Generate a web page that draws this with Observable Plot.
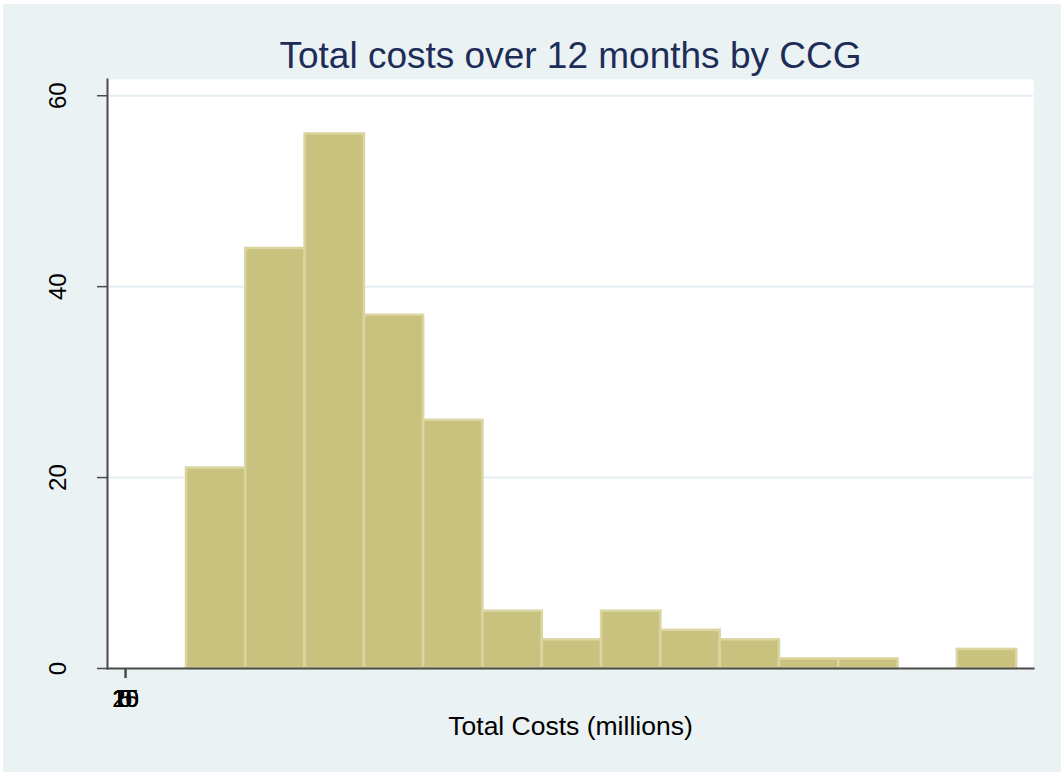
<!DOCTYPE html>
<html>
<head>
<meta charset="utf-8">
<script src="https://cdn.jsdelivr.net/npm/d3@7"></script>
<script src="https://cdn.jsdelivr.net/npm/@observablehq/plot@0.6"></script>
<style>
  html, body { margin: 0; padding: 0; background: #ffffff; }
  #wrap { position: relative; width: 1064px; height: 776px; background: #ffffff; overflow: hidden; }
  #panel { position: absolute; left: 3px; top: 4px; width: 1058px; height: 768px; background: #eaf2f3; }
  #chart { position: absolute; left: 0; top: 0; }
</style>
</head>
<body>
<div id="wrap"><div id="panel"></div><div id="chart"></div></div>
<script>
// Data (costs in pounds; bins of the histogram)
const binLower = [51.4e6, 101.4e6, 151.4e6, 201.4e6, 251.4e6, 301.4e6, 351.4e6, 401.4e6, 451.4e6, 501.4e6, 551.4e6, 601.4e6, 651.4e6, 701.4e6];
const binUpper = [101.4e6, 151.4e6, 201.4e6, 251.4e6, 301.4e6, 351.4e6, 401.4e6, 451.4e6, 501.4e6, 551.4e6, 601.4e6, 651.4e6, 701.4e6, 751.4e6];
const counts   = [21, 44, 56, 37, 26, 6, 3, 6, 4, 3, 1, 1, 0, 2];
const xTicks = [0, 5, 10, 15, 20];
const yTicks = [0, 20, 40, 60];
const gridTicks = [20, 40, 60];
const title = "Total costs over 12 months by CCG";
const xLabel = "Total Costs (millions)";

const bins = binLower.map((lo, i) => ({lo, hi: binUpper[i], n: counts[i]})).filter(d => d.n > 0);

const font = "'Liberation Sans', Arial, sans-serif";
const axisColor = "#4a4a4a";

const chart = Plot.plot({
  width: 1064,
  height: 776,
  marginLeft: 107,
  marginRight: 31,
  marginTop: 79,
  marginBottom: 108,
  style: {background: "transparent", fontFamily: font, overflow: "visible"},
  x: {domain: [-15.2e6, 765.6e6], axis: null, label: null},
  y: {domain: [0, 61.7], axis: null, label: null},
  marks: [
    Plot.frame({fill: "#ffffff", stroke: null}),
    Plot.ruleY(gridTicks, {stroke: "#e4edf0", strokeWidth: 2}),
    Plot.rectY(bins, {x1: "lo", x2: "hi", y1: 0, y2: "n", fill: "#c9c27f", stroke: "#dad5a1", strokeWidth: 2.5}),
    Plot.frame({anchor: "left", stroke: axisColor, strokeWidth: 2}),
    Plot.frame({anchor: "bottom", stroke: axisColor, strokeWidth: 2}),
    Plot.axisY(yTicks, {tickSize: 10, stroke: axisColor, strokeWidth: 1.5, tickFormat: null, text: null, label: null}),
    Plot.axisX(xTicks, {tickSize: 10, stroke: axisColor, strokeWidth: 1.5, tickFormat: null, text: null, label: null}),
    Plot.text(yTicks, {y: d => d, text: d => String(d), frameAnchor: "left", dx: -42, rotate: -90, textAnchor: "middle", lineAnchor: "bottom", fontSize: 24, fill: "#000"}),
    Plot.text(xTicks, {x: d => d, text: d => String(d), frameAnchor: "bottom", dy: 38, textAnchor: "middle", lineAnchor: "bottom", fontSize: 24, fill: "#000"}),
    Plot.text([title], {text: d => d, frameAnchor: "top", dy: -12, textAnchor: "middle", lineAnchor: "bottom", fontSize: 37, fill: "#1e2d58"}),
    Plot.text([xLabel], {text: d => d, frameAnchor: "bottom", dy: 66, textAnchor: "middle", lineAnchor: "bottom", fontSize: 26.5, fill: "#000"})
  ]
});
document.getElementById("chart").appendChild(chart);
</script>
</body>
</html>
